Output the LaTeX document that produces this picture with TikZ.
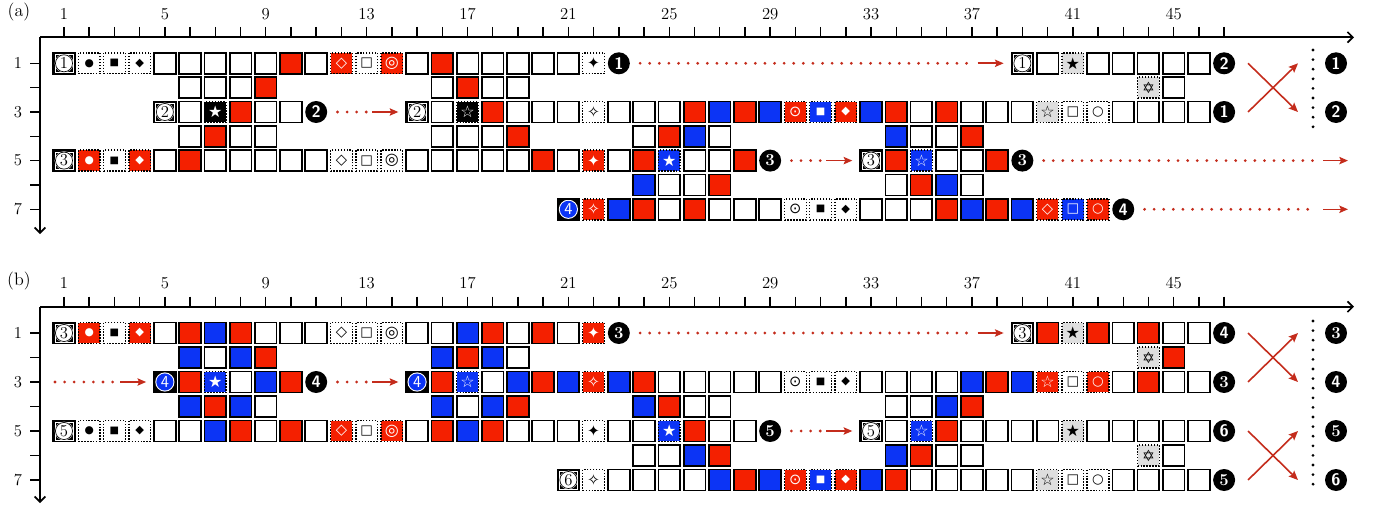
\documentclass[tikz,border=0pt]{standalone}
\usepackage{fontspec}
\usetikzlibrary{arrows.meta,calc}
\newfontfamily\symf{DejaVu Sans}
\newcommand\Sdot{{\symf\fontsize{8}{8}\selectfont ●}}
\newcommand\Ssq{{\symf\fontsize{7.5}{7.5}\selectfont ■}}
\newcommand\Sdia{{\symf\fontsize{8.5}{8.5}\selectfont ◆}}
\newcommand\Sodia{{\symf\fontsize{11}{11}\selectfont ◇}}
\newcommand\Sosq{{\symf\fontsize{10}{10}\selectfont □}}
\newcommand\Sbull{{\symf\fontsize{12}{12}\selectfont ◎}}
\newcommand\Sodot{{\symf\fontsize{11}{11}\selectfont ⊙}}
\newcommand\Soc{{\symf\fontsize{10}{10}\selectfont ○}}
\newcommand\Sstar{{\symf\fontsize{12}{12}\selectfont ★}}
\newcommand\Sostar{{\symf\fontsize{12}{12}\selectfont ☆}}
\newcommand\Sfour{{\symf\fontsize{11.5}{11.5}\selectfont ✦}}
\newcommand\Sofour{{\symf\fontsize{11.5}{11.5}\selectfont ✧}}
\newcommand\Sdavid{{\symf\fontsize{11.5}{11.5}\selectfont ✡}}
\definecolor{cred}{RGB}{244,32,0}
\definecolor{cblue}{RGB}{12,52,245}
\definecolor{cgray}{RGB}{222,222,222}
\definecolor{carrow}{RGB}{196,44,28}
\tikzset{
  cellbase/.style={rectangle, minimum width=16.3pt, minimum height=15.7pt, inner sep=0pt, draw=black, line width=1.3pt},
  cw/.style={cellbase, fill=white},
  cr/.style={cellbase, fill=cred},
  cb/.style={cellbase, fill=cblue},
  dotcell/.style={cellbase, line width=1.1pt, dash pattern=on 1.1pt off 1.1pt},
  dw/.style={dotcell, fill=white, text=black},
  dr/.style={dotcell, fill=cred, text=white},
  db/.style={dotcell, fill=cblue, text=white},
  dg/.style={dotcell, fill=cgray, text=black},
  dk/.style={dotcell, fill=black, text=white},
  startc/.style={cellbase, fill=black, text=black, font=\fontsize{12.5}{12.5}\selectfont, path picture={
    \draw[white, line width=0.35pt] ([shift={(1.2pt,1.2pt)}]path picture bounding box.south west) rectangle ([shift={(-1.2pt,-1.2pt)}]path picture bounding box.north east);
    \fill[white] (path picture bounding box.center) circle (7pt);
    \draw[black, line width=0.5pt] (path picture bounding box.center) circle (6.4pt);}},
  startb/.style={cellbase, fill=black, text=white, font=\sffamily\fontsize{12.5}{12.5}\selectfont, path picture={
    \fill[white] (path picture bounding box.center) circle (7.2pt);
    \fill[cblue] (path picture bounding box.center) circle (6.4pt);}},
  endm/.style={circle, fill=black, minimum size=16.5pt, inner sep=0pt, text=white, font=\bfseries\fontsize{12.5}{12.5}\selectfont},
  dotflow/.style={draw=carrow, line width=2.3pt, line cap=round, dash pattern=on 0pt off 7.2pt},
  solidflow/.style={draw=carrow, line width=1.2pt, -{Stealth[length=6.5pt,width=5.5pt,inset=1.2pt]}},
  crossar/.style={draw=carrow, line width=1.2pt, -{Stealth[length=7pt,width=6pt,inset=1.3pt]}},
  vdots/.style={draw=black, line width=2.3pt, line cap=round, dash pattern=on 0pt off 7.2pt},
  axis/.style={line width=1.3pt, -{Straight Barb[length=4pt,width=8pt]}},
  tickm/.style={line width=1.1pt},
  ticklab/.style={font=\fontsize{12.5}{12.5}\selectfont, inner sep=0pt},
  panlab/.style={font=\fontsize{13.5}{13.5}\selectfont, inner sep=0pt}
}
\newcommand\mkrow[4]{\foreach \st/\sy [count=\i from #3] in {#4} {\node[\st] (#1-\i) at ({64+(\i-1)*25.22},#2) {\sy};}}
\newcommand\flow[2]{%
  \draw[dotflow] ($(#1.east)+(10,0)$) -- ($(#2.west)+(-39,0)$);
  \draw[solidflow] ($(#2.west)+(-33,0)$) -- ($(#2.west)+(-7,0)$);}
\newcommand\flowto[2]{%
  \draw[dotflow] ($(#1.east)+(10,0)$) -- ($(#2)+(-31,0)$);
  \draw[solidflow] ($(#2)+(-25,0)$) -- (#2);}
\begin{document}
\begin{tikzpicture}[x=0.75pt,y=-0.75pt]
\useasboundingbox (0,0) rectangle (1384,510);
% ---------- panel (a) axes
\node[panlab] (alab) at (19,12) {(a)};
\coordinate (aO) at (40,37.3);
\draw[axis] (aO) -- (1354,37.3);
\draw[axis] (aO) -- (40,234);
\foreach \c in {1,...,47} \draw[tickm] ({64+(\c-1)*25.22},27) -- ({64+(\c-1)*25.22},37.3);
\foreach \c in {1,5,...,45} \node[ticklab] at ({64+(\c-1)*25.22},14) {\c};
\foreach \r in {1,...,7} \draw[tickm] (30,{63.3+(\r-1)*24.33}) -- (40,{63.3+(\r-1)*24.33});
\foreach \r in {1,3,5,7} \node[ticklab] at (18,{63.3+(\r-1)*24.33}) {\r};
% ---------- panel (a) cells
\mkrow{a1}{63.3}{1}{startc/1, dw/\Sdot, dw/\Ssq, dw/\Sdia, cw/, cw/, cw/, cw/, cw/, cr/, cw/, dr/\Sodia, dw/\Sosq, dr/\Sbull, cw/, cr/, cw/, cw/, cw/, cw/, cw/, dw/\Sfour, endm/{\sffamily 1}}
\mkrow{a1}{63.3}{39}{startc/1, cw/, dg/\Sstar, cw/, cw/, cw/, cw/, cw/, endm/{\sffamily 2}}
\mkrow{a2}{87.6}{6}{cw/, cw/, cw/, cr/}
\mkrow{a2}{87.6}{16}{cw/, cr/, cw/, cw/}
\mkrow{a2}{87.6}{44}{dg/\Sdavid, cw/}
\mkrow{a3}{112}{5}{startc/2, cw/, dk/\Sstar, cr/, cw/, cw/, endm/{\sffamily 2}}
\mkrow{a3}{112}{15}{startc/2, cw/, dk/\Sostar, cr/, cw/, cw/, cw/, dw/\Sofour, cw/, cw/, cw/, cr/, cb/, cr/, cb/, dr/\Sodot, db/\Ssq, dr/\Sdia, cb/, cr/, cw/, cr/, cw/, cw/, cw/, dg/\Sostar, dw/\Sosq, dw/\Soc, cw/, cw/, cw/, cw/, endm/{\sffamily 1}}
\mkrow{a4}{136.3}{6}{cw/, cr/, cw/, cw/}
\mkrow{a4}{136.3}{16}{cw/, cw/, cw/, cr/}
\mkrow{a4}{136.3}{24}{cw/, cr/, cb/, cw/}
\mkrow{a4}{136.3}{34}{cb/, cw/, cw/, cr/}
\mkrow{a5}{160.6}{1}{startc/3, dr/\Sdot, dw/\Ssq, dr/\Sdia, cw/, cr/, cw/, cw/, cw/, cw/, cw/, dw/\Sodia, dw/\Sosq, dw/\Sbull, cw/, cw/, cw/, cw/, cw/, cr/, cw/, dr/\Sfour, cw/, cr/, db/\Sstar, cw/, cw/, cr/, endm/3}
\mkrow{a5}{160.6}{33}{startc/3, cr/, db/\Sostar, cw/, cw/, cr/, endm/3}
\mkrow{a6}{185}{24}{cb/, cw/, cw/, cr/}
\mkrow{a6}{185}{34}{cw/, cr/, cb/, cw/}
\mkrow{a7}{209.3}{21}{startb/4, dr/\Sofour, cb/, cr/, cw/, cr/, cw/, cw/, cw/, dw/\Sodot, dw/\Ssq, dw/\Sdia, cw/, cw/, cw/, cr/, cb/, cr/, cb/, dr/\Sodia, db/\Sosq, dr/\Soc, endm/{\sffamily 4}}
% ---------- panel (a) connectors
\flow{a1-23}{a1-39}
\flow{a3-11}{a3-15}
\flow{a5-29}{a5-33}
\coordinate (aT5) at (1348,160.6);
\coordinate (aT7) at (1348,209.3);
\flowto{a5-39}{aT5}
\flowto{a7-43}{aT7}
\coordinate (aX1) at (1248,63.3); \coordinate (aX3) at (1248,112);
\coordinate (aY1) at (1298,63.3); \coordinate (aY3) at (1298,112);
\draw[crossar] (aX1) -- (aY3);
\draw[crossar] (aX3) -- (aY1);
\draw[vdots] (1313,50) -- (1313,128);
\node[endm] (aR1) at (1336,63.3) {\sffamily 1};
\node[endm] (aR2) at (1336,112) {\sffamily 2};
% ---------- panel (b) axes
\node[panlab] (blab) at (19,281) {(b)};
\coordinate (bO) at (40,306.7);
\draw[axis] (bO) -- (1354,306.7);
\draw[axis] (bO) -- (40,503);
\foreach \c in {1,...,47} \draw[tickm] ({64+(\c-1)*25.22},296.5) -- ({64+(\c-1)*25.22},306.7);
\foreach \c in {1,5,...,45} \node[ticklab] at ({64+(\c-1)*25.22},283) {\c};
\foreach \r in {1,...,7} \draw[tickm] (30,{333+(\r-1)*24.5}) -- (40,{333+(\r-1)*24.5});
\foreach \r in {1,3,5,7} \node[ticklab] at (18,{333+(\r-1)*24.5}) {\r};
% ---------- panel (b) cells
\mkrow{b1}{333}{1}{startc/3, dr/\Sdot, dw/\Ssq, dr/\Sdia, cw/, cr/, cb/, cr/, cw/, cw/, cw/, dw/\Sodia, dw/\Sosq, dw/\Sbull, cw/, cw/, cb/, cr/, cw/, cr/, cw/, dr/\Sfour, endm/3}
\mkrow{b1}{333}{39}{startc/3, cr/, dg/\Sstar, cr/, cw/, cr/, cw/, cw/, endm/{\sffamily 4}}
\mkrow{b2}{357.5}{6}{cb/, cw/, cb/, cr/}
\mkrow{b2}{357.5}{16}{cb/, cr/, cb/, cw/}
\mkrow{b2}{357.5}{44}{dg/\Sdavid, cr/}
\mkrow{b3}{382}{5}{startb/4, cr/, db/\Sstar, cw/, cb/, cr/, endm/{\sffamily 4}}
\mkrow{b3}{382}{15}{startb/4, cr/, db/\Sostar, cw/, cb/, cr/, cb/, dr/\Sofour, cb/, cr/, cw/, cw/, cw/, cw/, cw/, dw/\Sodot, dw/\Ssq, dw/\Sdia, cw/, cw/, cw/, cw/, cb/, cr/, cb/, dr/\Sostar, dw/\Sosq, dr/\Soc, cw/, cr/, cw/, cw/, endm/3}
\mkrow{b4}{406.5}{6}{cb/, cr/, cb/, cw/}
\mkrow{b4}{406.5}{16}{cb/, cw/, cb/, cr/}
\mkrow{b4}{406.5}{24}{cb/, cr/, cw/, cw/}
\mkrow{b4}{406.5}{34}{cw/, cw/, cb/, cr/}
\mkrow{b5}{431}{1}{startc/5, dw/\Sdot, dw/\Ssq, dw/\Sdia, cw/, cw/, cb/, cr/, cw/, cr/, cw/, dr/\Sodia, dw/\Sosq, dr/\Sbull, cw/, cr/, cb/, cr/, cw/, cw/, cw/, dw/\Sfour, cw/, cw/, db/\Sstar, cr/, cw/, cw/, endm/5}
\mkrow{b5}{431}{33}{startc/5, cw/, db/\Sostar, cr/, cw/, cw/, cw/, cw/, dg/\Sstar, cw/, cw/, cw/, cw/, cw/, endm/{\sffamily 6}}
\mkrow{b6}{455.5}{24}{cw/, cw/, cb/, cr/}
\mkrow{b6}{455.5}{34}{cb/, cr/, cw/, cw/}
\mkrow{b6}{455.5}{44}{dg/\Sdavid, cw/}
\mkrow{b7}{480}{21}{startc/6, dw/\Sofour, cw/, cw/, cw/, cw/, cb/, cr/, cb/, dr/\Sodot, db/\Ssq, dr/\Sdia, cb/, cr/, cw/, cw/, cw/, cw/, cw/, dg/\Sostar, dw/\Sosq, dw/\Soc, cw/, cw/, cw/, cw/, endm/5}
% ---------- panel (b) connectors
\flow{b1-23}{b1-39}
\coordinate (bL3) at (55,382);
\draw[dotflow] (bL3) -- ($(b3-5.west)+(-39,0)$);
\draw[solidflow] ($(b3-5.west)+(-33,0)$) -- ($(b3-5.west)+(-7,0)$);
\flow{b3-11}{b3-15}
\flow{b5-29}{b5-33}
\coordinate (bX1) at (1248,333); \coordinate (bX3) at (1248,382);
\coordinate (bY1) at (1298,333); \coordinate (bY3) at (1298,382);
\coordinate (bX5) at (1248,431); \coordinate (bX7) at (1248,480);
\coordinate (bY5) at (1298,431); \coordinate (bY7) at (1298,480);
\draw[crossar] (bX1) -- (bY3);
\draw[crossar] (bX3) -- (bY1);
\draw[crossar] (bX5) -- (bY7);
\draw[crossar] (bX7) -- (bY5);
\draw[vdots] (1313,321) -- (1313,492);
\node[endm] (bR3) at (1336,333) {3};
\node[endm] (bR4) at (1336,382) {\sffamily 4};
\node[endm] (bR5) at (1336,431) {5};
\node[endm] (bR6) at (1336,480) {\sffamily 6};
\end{tikzpicture}
\end{document}
